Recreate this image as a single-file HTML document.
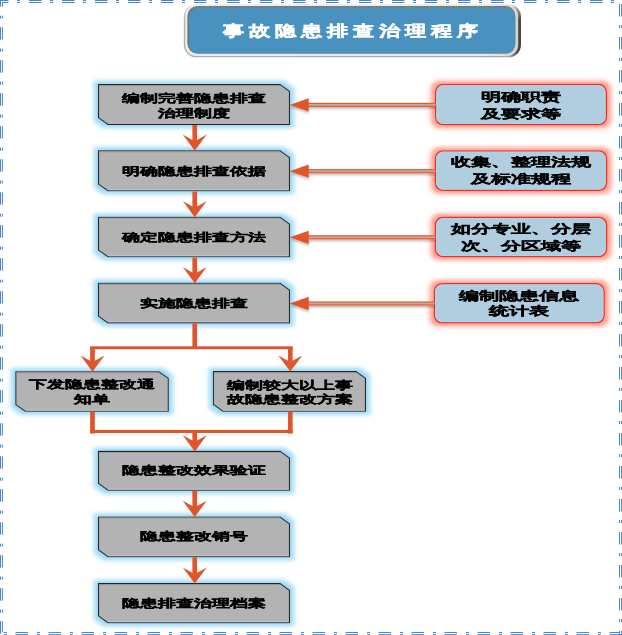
<!DOCTYPE html>
<html><head><meta charset="utf-8"><title>事故隐患排查治理程序</title>
<style>
html,body{margin:0;padding:0;background:#fff;}
body{width:622px;height:635px;position:relative;overflow:hidden;font-family:"Liberation Sans",sans-serif;}
svg{position:absolute;left:0;top:0;}
.t{position:absolute;width:600px;text-align:center;white-space:nowrap;font-weight:bold;transform-origin:300px 0;-webkit-text-stroke:0.35px currentColor;}
</style></head><body>
<svg width="622" height="635" viewBox="0 0 622 635">
<defs>
<filter id="gb" x="-20%" y="-40%" width="140%" height="180%">
 <feMorphology in="SourceAlpha" operator="dilate" radius="3.6 2.8" result="d"/>
 <feGaussianBlur in="d" stdDeviation="2.8 1.9" result="b"/>
 <feFlood flood-color="#9cd9f7"/>
 <feComposite in2="b" operator="in" result="g"/>
 <feMerge><feMergeNode in="g"/><feMergeNode in="SourceGraphic"/></feMerge>
</filter>
<filter id="gr" x="-20%" y="-40%" width="140%" height="180%">
 <feMorphology in="SourceAlpha" operator="dilate" radius="3.6 2.8" result="d"/>
 <feGaussianBlur in="d" stdDeviation="2.8 1.9" result="b"/>
 <feFlood flood-color="#ffa090"/>
 <feComposite in2="b" operator="in" result="g"/>
 <feMerge><feMergeNode in="g"/><feMergeNode in="SourceGraphic"/></feMerge>
</filter>
<filter id="sh" x="-10%" y="-50%" width="120%" height="200%">
 <feGaussianBlur in="SourceAlpha" stdDeviation="1"/>
 <feOffset dx="0" dy="1.6" result="o"/>
 <feFlood flood-color="#000" flood-opacity="0.25"/>
 <feComposite in2="o" operator="in" result="s"/>
 <feMerge><feMergeNode in="s"/><feMergeNode in="SourceGraphic"/></feMerge>
</filter>
<linearGradient id="tg1" x1="0" y1="0" x2="0" y2="1">
 <stop offset="0" stop-color="#ffffff"/><stop offset="0.35" stop-color="#b8b8b8"/><stop offset="1" stop-color="#a4a4a4"/>
</linearGradient>
<linearGradient id="tg2" x1="0" y1="0" x2="1" y2="0">
 <stop offset="0" stop-color="#ededed"/><stop offset="0.9" stop-color="#eeeae8"/><stop offset="1" stop-color="#d6d2d0"/>
</linearGradient>
<linearGradient id="tg3" x1="0" y1="0" x2="0" y2="1">
 <stop offset="0" stop-color="#857c75"/><stop offset="0.1" stop-color="#707070"/><stop offset="1" stop-color="#707070"/>
</linearGradient>
<linearGradient id="tgH" gradientUnits="userSpaceOnUse" x1="183.8" y1="0" x2="521" y2="0">
 <stop offset="0" stop-color="#b0b0b0"/><stop offset="0.965" stop-color="#a8a8a8"/><stop offset="0.99" stop-color="#474747"/><stop offset="1" stop-color="#474747"/>
</linearGradient>
<linearGradient id="tgV" gradientUnits="userSpaceOnUse" x1="0" y1="4.4" x2="0" y2="57.3">
 <stop offset="0" stop-color="#fff" stop-opacity="1"/><stop offset="0.06" stop-color="#fff" stop-opacity="0.5"/><stop offset="0.3" stop-color="#fff" stop-opacity="0"/>
</linearGradient>
</defs>
<line x1="0" y1="0.5" x2="622" y2="0.5" stroke="#4587cc" stroke-width="1" stroke-dasharray="12.5 8.5 3 9" stroke-dashoffset="4"/>
<line x1="2" y1="2.5" x2="622" y2="2.5" stroke="#4587cc" stroke-width="1" stroke-dasharray="12.5 8.5 3 9" stroke-dashoffset="6"/>
<line x1="621.6" y1="0" x2="621.6" y2="635" stroke="#4587cc" stroke-width="1" stroke-dasharray="12.5 8.5 3 9" stroke-dashoffset="29"/>
<line x1="619.5" y1="2.5" x2="619.5" y2="635" stroke="#4587cc" stroke-width="1" stroke-dasharray="12.5 8.5 3 9" stroke-dashoffset="31.5"/>
<line x1="622" y1="634.6" x2="0" y2="634.6" stroke="#4587cc" stroke-width="1" stroke-dasharray="12.5 8.5 3 9" stroke-dashoffset="0"/>
<line x1="619.5" y1="632.5" x2="0" y2="632.5" stroke="#4587cc" stroke-width="1" stroke-dasharray="12.5 8.5 3 9" stroke-dashoffset="2.5"/>
<line x1="0.5" y1="635" x2="0.5" y2="0" stroke="#4587cc" stroke-width="1" stroke-dasharray="12.5 8.5 3 9" stroke-dashoffset="31.7"/>
<line x1="2.4" y1="632.5" x2="2.4" y2="2.5" stroke="#4587cc" stroke-width="1" stroke-dasharray="12.5 8.5 3 9" stroke-dashoffset="34.2"/>
<rect x="183.8" y="4.4" width="337.2" height="52.9" rx="12.5" fill="url(#tgH)"/>
<rect x="183.8" y="4.4" width="337.2" height="52.9" rx="12.5" fill="url(#tgV)"/>
<rect x="185.2" y="5.0" width="333.0" height="51.0" rx="11" fill="url(#tg2)"/>
<rect x="187.4" y="6.0" width="327.9" height="47.6" rx="10" fill="url(#tg3)"/>
<rect x="188.9" y="7.6" width="326.3" height="46.0" rx="9" fill="#4992c0"/>
<polygon filter="url(#gb)" points="98.50,84.60 280.20,84.60 289.50,91.30 289.50,124.40 107.80,124.40 98.50,117.70" fill="#b3b3b3" stroke="#262626" stroke-width="1.1"/>
<line x1="99.50" y1="85.70" x2="279.70" y2="85.70" stroke="#a3948e" stroke-width="0.8"/>
<line x1="108.30" y1="123.30" x2="288.90" y2="123.30" stroke="#c9c9c9" stroke-width="0.8"/>
<polygon filter="url(#gb)" points="98.50,150.80 280.20,150.80 289.50,157.50 289.50,190.80 107.80,190.80 98.50,184.10" fill="#b3b3b3" stroke="#262626" stroke-width="1.1"/>
<line x1="99.50" y1="151.90" x2="279.70" y2="151.90" stroke="#a3948e" stroke-width="0.8"/>
<line x1="108.30" y1="189.70" x2="288.90" y2="189.70" stroke="#c9c9c9" stroke-width="0.8"/>
<polygon filter="url(#gb)" points="98.50,217.30 280.20,217.30 289.50,224.00 289.50,256.80 107.80,256.80 98.50,250.10" fill="#b3b3b3" stroke="#262626" stroke-width="1.1"/>
<line x1="99.50" y1="218.40" x2="279.70" y2="218.40" stroke="#a3948e" stroke-width="0.8"/>
<line x1="108.30" y1="255.70" x2="288.90" y2="255.70" stroke="#c9c9c9" stroke-width="0.8"/>
<polygon filter="url(#gb)" points="98.50,283.30 280.20,283.30 289.50,290.00 289.50,322.90 107.80,322.90 98.50,316.20" fill="#b3b3b3" stroke="#262626" stroke-width="1.1"/>
<line x1="99.50" y1="284.40" x2="279.70" y2="284.40" stroke="#a3948e" stroke-width="0.8"/>
<line x1="108.30" y1="321.80" x2="288.90" y2="321.80" stroke="#c9c9c9" stroke-width="0.8"/>
<polygon filter="url(#gb)" points="15.80,371.70 159.00,371.70 168.30,378.40 168.30,411.30 25.10,411.30 15.80,404.60" fill="#b3b3b3" stroke="#262626" stroke-width="1.1"/>
<line x1="16.80" y1="372.80" x2="158.50" y2="372.80" stroke="#a3948e" stroke-width="0.8"/>
<line x1="25.60" y1="410.20" x2="167.70" y2="410.20" stroke="#c9c9c9" stroke-width="0.8"/>
<polygon filter="url(#gb)" points="213.40,371.60 356.20,371.60 365.50,378.30 365.50,411.20 222.70,411.20 213.40,404.50" fill="#b3b3b3" stroke="#262626" stroke-width="1.1"/>
<line x1="214.40" y1="372.70" x2="355.70" y2="372.70" stroke="#a3948e" stroke-width="0.8"/>
<line x1="223.20" y1="410.10" x2="364.90" y2="410.10" stroke="#c9c9c9" stroke-width="0.8"/>
<polygon filter="url(#gb)" points="98.50,451.40 280.20,451.40 289.50,458.10 289.50,490.20 107.80,490.20 98.50,483.50" fill="#b3b3b3" stroke="#262626" stroke-width="1.1"/>
<line x1="99.50" y1="452.50" x2="279.70" y2="452.50" stroke="#a3948e" stroke-width="0.8"/>
<line x1="108.30" y1="489.10" x2="288.90" y2="489.10" stroke="#c9c9c9" stroke-width="0.8"/>
<polygon filter="url(#gb)" points="98.50,517.00 280.20,517.00 289.50,523.70 289.50,556.70 107.80,556.70 98.50,550.00" fill="#b3b3b3" stroke="#262626" stroke-width="1.1"/>
<line x1="99.50" y1="518.10" x2="279.70" y2="518.10" stroke="#a3948e" stroke-width="0.8"/>
<line x1="108.30" y1="555.60" x2="288.90" y2="555.60" stroke="#c9c9c9" stroke-width="0.8"/>
<polygon filter="url(#gb)" points="98.50,583.60 280.20,583.60 289.50,590.30 289.50,622.70 107.80,622.70 98.50,616.00" fill="#b3b3b3" stroke="#262626" stroke-width="1.1"/>
<line x1="99.50" y1="584.70" x2="279.70" y2="584.70" stroke="#a3948e" stroke-width="0.8"/>
<line x1="108.30" y1="621.60" x2="288.90" y2="621.60" stroke="#c9c9c9" stroke-width="0.8"/>
<rect filter="url(#gr)" x="435.6" y="84.6" width="170.70" height="40.00" rx="7.5" fill="#b0cee0" stroke="#ff2626" stroke-width="1.5"/>
<rect x="436.70" y="85.70" width="168.50" height="37.80" rx="6.5" fill="none" stroke="#a2def2" stroke-width="0.9"/>
<rect filter="url(#gr)" x="435.4" y="150.9" width="171.10" height="39.40" rx="7.5" fill="#b0cee0" stroke="#ff2626" stroke-width="1.5"/>
<rect x="436.50" y="152.00" width="168.90" height="37.20" rx="6.5" fill="none" stroke="#a2def2" stroke-width="0.9"/>
<rect filter="url(#gr)" x="435.4" y="217.4" width="171.10" height="39.20" rx="7.5" fill="#b0cee0" stroke="#ff2626" stroke-width="1.5"/>
<rect x="436.50" y="218.50" width="168.90" height="37.00" rx="6.5" fill="none" stroke="#a2def2" stroke-width="0.9"/>
<rect filter="url(#gr)" x="434.4" y="283.8" width="169.70" height="39.00" rx="7.5" fill="#b0cee0" stroke="#ff2626" stroke-width="1.5"/>
<rect x="435.50" y="284.90" width="167.50" height="36.80" rx="6.5" fill="none" stroke="#a2def2" stroke-width="0.9"/>
<g filter="url(#sh)"><rect x="300" y="103.40" width="135.60" height="3" fill="#bcaaa6"/><rect x="300" y="102.80" width="135.60" height="1.2" fill="#f05a28"/><rect x="300" y="105.80" width="135.60" height="1.2" fill="#f05a28"/><polygon points="289.6,104.90 308.7,98.25 308.7,111.55" fill="#e0552a"/></g>
<g filter="url(#sh)"><rect x="300" y="169.70" width="135.40" height="3" fill="#bcaaa6"/><rect x="300" y="169.10" width="135.40" height="1.2" fill="#f05a28"/><rect x="300" y="172.10" width="135.40" height="1.2" fill="#f05a28"/><polygon points="289.6,171.20 308.7,164.55 308.7,177.85" fill="#e0552a"/></g>
<g filter="url(#sh)"><rect x="300" y="235.80" width="135.40" height="3" fill="#bcaaa6"/><rect x="300" y="235.20" width="135.40" height="1.2" fill="#f05a28"/><rect x="300" y="238.20" width="135.40" height="1.2" fill="#f05a28"/><polygon points="289.6,237.30 308.7,230.65 308.7,243.95" fill="#e0552a"/></g>
<g filter="url(#sh)"><rect x="300" y="302.00" width="134.40" height="3" fill="#bcaaa6"/><rect x="300" y="301.40" width="134.40" height="1.2" fill="#f05a28"/><rect x="300" y="304.40" width="134.40" height="1.2" fill="#f05a28"/><polygon points="289.6,303.50 308.7,296.85 308.7,310.15" fill="#e0552a"/></g>
<polygon fill="#e0552a" points="192.40,125.00 197.10,125.00 197.10,139.90 206.75,134.60 194.75,150.80 182.75,134.60 192.40,139.90"/>
<polygon fill="#e0552a" points="192.40,191.40 197.10,191.40 197.10,206.40 206.75,201.10 194.75,217.30 182.75,201.10 192.40,206.40"/>
<polygon fill="#e0552a" points="192.40,257.40 197.10,257.40 197.10,272.40 206.75,267.10 194.75,283.30 182.75,267.10 192.40,272.40"/>
<rect x="192.4" y="323.5" width="4.7" height="25" fill="#e0552a"/>
<rect x="90.05" y="346.3" width="202.6" height="2.9" fill="#e0552a"/>
<polygon fill="#e0552a" points="90.15,346.90 94.85,346.90 94.85,360.80 104.50,355.50 92.50,371.70 80.50,355.50 90.15,360.80"/>
<polygon fill="#e0552a" points="287.95,346.90 292.65,346.90 292.65,360.70 302.30,355.40 290.30,371.60 278.30,355.40 287.95,360.70"/>
<rect x="90.15" y="411.9" width="4.7" height="21.7" fill="#e0552a"/>
<rect x="287.95" y="411.8" width="4.7" height="21.8" fill="#e0552a"/>
<rect x="90.05" y="429.9" width="202.7" height="3.1" fill="#e0552a"/>
<polygon fill="#e0552a" points="192.40,431.60 197.10,431.60 197.10,440.50 206.75,435.20 194.75,451.40 182.75,435.20 192.40,440.50"/>
<polygon fill="#e0552a" points="192.40,490.80 197.10,490.80 197.10,506.10 206.75,500.80 194.75,517.00 182.75,500.80 192.40,506.10"/>
<polygon fill="#e0552a" points="192.40,557.30 197.10,557.30 197.10,572.70 206.75,567.40 194.75,583.60 182.75,567.40 192.40,572.70"/>
</svg>
<div class="t" style="left:53.20px;top:23.40px;font-size:15.3px;line-height:15.3px;transform:scaleX(1.41);letter-spacing:3.45px;color:#fff;-webkit-text-stroke:0.4px #fff">事故隐患排查治理程序</div>
<div class="t" style="left:-106.00px;top:92.70px;font-size:10.8px;line-height:10.8px;transform:scaleX(1.63);letter-spacing:0px;color:#000">编制完善隐患排查</div>
<div class="t" style="left:-106.00px;top:107.50px;font-size:10.8px;line-height:10.8px;transform:scaleX(1.63);letter-spacing:0px;color:#000">治理制度</div>
<div class="t" style="left:-106.00px;top:165.90px;font-size:10.8px;line-height:10.8px;transform:scaleX(1.63);letter-spacing:0px;color:#000">明确隐患排查依据</div>
<div class="t" style="left:-106.00px;top:232.00px;font-size:10.8px;line-height:10.8px;transform:scaleX(1.63);letter-spacing:0px;color:#000">确定隐患排查方法</div>
<div class="t" style="left:-106.00px;top:297.60px;font-size:10.8px;line-height:10.8px;transform:scaleX(1.63);letter-spacing:0px;color:#000">实施隐患排查</div>
<div class="t" style="left:-208.00px;top:378.90px;font-size:10.8px;line-height:10.8px;transform:scaleX(1.63);letter-spacing:0px;color:#000">下发隐患整改通</div>
<div class="t" style="left:-208.00px;top:394.20px;font-size:10.8px;line-height:10.8px;transform:scaleX(1.63);letter-spacing:0px;color:#000">知单</div>
<div class="t" style="left:-10.50px;top:379.60px;font-size:10.8px;line-height:10.8px;transform:scaleX(1.63);letter-spacing:0px;color:#000">编制较大以上事</div>
<div class="t" style="left:-10.50px;top:394.20px;font-size:10.8px;line-height:10.8px;transform:scaleX(1.63);letter-spacing:0px;color:#000">故隐患整改方案</div>
<div class="t" style="left:-106.00px;top:465.00px;font-size:10.8px;line-height:10.8px;transform:scaleX(1.63);letter-spacing:0px;color:#000">隐患整改效果验证</div>
<div class="t" style="left:-106.00px;top:531.00px;font-size:10.8px;line-height:10.8px;transform:scaleX(1.63);letter-spacing:0px;color:#000">隐患整改销号</div>
<div class="t" style="left:-106.00px;top:598.10px;font-size:10.8px;line-height:10.8px;transform:scaleX(1.63);letter-spacing:0px;color:#000">隐患排查治理档案</div>
<div class="t" style="left:221.00px;top:91.20px;font-size:11.6px;line-height:11.6px;transform:scaleX(1.677);letter-spacing:0px;color:#000">明确职责</div>
<div class="t" style="left:221.00px;top:108.10px;font-size:11.6px;line-height:11.6px;transform:scaleX(1.677);letter-spacing:0px;color:#000">及要求等</div>
<div class="t" style="left:221.00px;top:155.70px;font-size:11.6px;line-height:11.6px;transform:scaleX(1.677);letter-spacing:0px;color:#000">收集、整理法规</div>
<div class="t" style="left:221.00px;top:172.60px;font-size:11.6px;line-height:11.6px;transform:scaleX(1.677);letter-spacing:0px;color:#000">及标准规程</div>
<div class="t" style="left:221.00px;top:223.20px;font-size:11.6px;line-height:11.6px;transform:scaleX(1.677);letter-spacing:0px;color:#000">如分专业、分层</div>
<div class="t" style="left:221.00px;top:239.70px;font-size:11.6px;line-height:11.6px;transform:scaleX(1.677);letter-spacing:0px;color:#000">次、分区域等</div>
<div class="t" style="left:219.20px;top:289.70px;font-size:11.6px;line-height:11.6px;transform:scaleX(1.677);letter-spacing:0px;color:#000">编制隐患信息</div>
<div class="t" style="left:219.20px;top:305.10px;font-size:11.6px;line-height:11.6px;transform:scaleX(1.677);letter-spacing:0px;color:#000">统计表</div>
</body></html>
